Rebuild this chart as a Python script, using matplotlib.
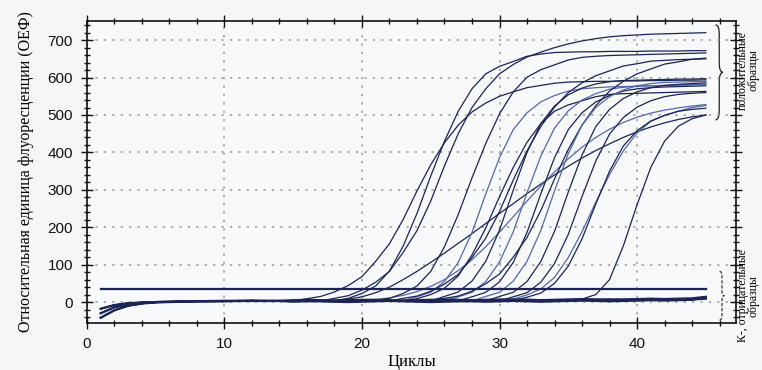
import matplotlib
matplotlib.use('Agg')
import matplotlib.pyplot as plt
from matplotlib.path import Path
from matplotlib.patches import PathPatch
from matplotlib.ticker import MultipleLocator

# циклы
early_cycles = list(range(1, 15))
late_cycles = list(range(15, 46))

# начало кривых, циклы 1-14
early_a = [-42, -22, -10, -4, -1, 0, 1, 2, 2, 3, 3, 3, 3, 3]
early_b = [-30, -14, -6, -2, 0, 1, 1, 2, 2, 2, 3, 3, 3, 3]
early_c = [-18, -8, -3, -1, 0, 1, 2, 2, 3, 3, 3, 4, 3, 3]

# положительные образцы, циклы 15-45
pos_a = [3, 9, 15, 27, 44, 68, 109, 156, 221, 297, 367, 426, 473, 508, 532, 550,
         562, 573, 579, 585, 588, 589, 590, 590, 591, 591, 592, 592, 593, 593, 594]
pos_b = [3, 3, 3, 3, 10, 23, 43, 83, 150, 237, 337, 430, 510, 570, 610, 630,
         643, 657, 663, 667, 668, 669, 669, 670, 670, 670, 671, 671, 671, 672, 672]
pos_c = [3, 3, 3, 10, 17, 32, 53, 82, 133, 191, 270, 364, 450, 520, 570, 610,
         635, 655, 668, 680, 690, 698, 704, 709, 712, 714, 716, 717, 718, 719, 720]
pos_d = [3, 3, 4, 5, 8, 14, 25, 40, 60, 82, 106, 131, 157, 183, 210, 237,
         263, 290, 315, 340, 363, 385, 405, 423, 440, 455, 468, 479, 488, 495, 500]
pos_e = [3, 3, 3, 3, 4, 5, 7, 11, 18, 28, 42, 60, 84, 113, 148, 187,
         228, 270, 310, 348, 383, 414, 440, 462, 480, 494, 505, 513, 519, 524, 528]
pos_f = [3, 2, 3, 4, 3, 3, 4, 10, 23, 43, 82, 148, 234, 332, 424, 503,
         562, 601, 621, 634, 647, 654, 657, 659, 660, 661, 662, 663, 664, 665, 666]
pos_g = [2, 3, 3, 2, 3, 4, 3, 3, 4, 14, 26, 55, 106, 186, 289, 386,
         461, 506, 535, 552, 564, 570, 573, 575, 576, 577, 578, 579, 580, 581, 582]
pos_h = [3, 4, 3, 3, 2, 3, 4, 4, 3, 9, 20, 37, 70, 126, 198, 282,
         360, 427, 477, 510, 527, 538, 549, 555, 557, 558, 559, 560, 561, 562, 563]
pos_i = [3, 3, 2, 3, 4, 4, 3, 2, 3, 4, 3, 15, 27, 56, 109, 192,
         299, 400, 477, 524, 554, 572, 583, 589, 592, 593, 594, 595, 596, 596, 597]
pos_j = [4, 3, 3, 4, 5, 4, 3, 3, 10, 16, 29, 48, 74, 119, 171, 242,
         326, 404, 469, 521, 560, 586, 605, 618, 631, 637, 644, 646, 648, 649, 650]
pos_k = [3, 2, 2, 3, 3, 4, 3, 3, 2, 3, 4, 3, 14, 26, 55, 107,
         188, 292, 390, 465, 511, 540, 557, 569, 574, 577, 578, 579, 580, 581, 582]
pos_l = [3, 3, 4, 3, 2, 3, 3, 4, 4, 3, 3, 2, 3, 14, 26, 54,
         106, 186, 289, 386, 461, 506, 535, 552, 564, 570, 573, 575, 576, 577, 578]
pos_m = [2, 3, 3, 3, 4, 4, 3, 3, 2, 3, 4, 10, 16, 29, 49, 75,
         120, 173, 244, 329, 408, 473, 525, 564, 590, 610, 623, 636, 642, 649, 652]
pos_n = [3, 4, 4, 3, 3, 2, 3, 3, 4, 3, 3, 2, 3, 3, 15, 26,
         56, 109, 191, 297, 397, 473, 520, 549, 567, 578, 584, 587, 588, 589, 590]
pos_o = [4, 3, 3, 2, 3, 3, 4, 4, 3, 3, 2, 3, 3, 4, 3, 15,
         26, 55, 108, 189, 294, 393, 469, 515, 544, 562, 573, 579, 582, 584, 586]
pos_p = [3, 3, 2, 3, 4, 3, 3, 3, 4, 3, 2, 3, 3, 4, 3, 3,
         14, 25, 53, 103, 181, 282, 377, 449, 493, 521, 538, 549, 555, 558, 560]
pos_q = [2, 3, 3, 4, 3, 3, 2, 3, 4, 4, 3, 3, 2, 3, 3, 4,
         8, 19, 35, 66, 119, 188, 267, 341, 404, 452, 483, 499, 510, 520, 525]
pos_r = [3, 3, 4, 3, 3, 2, 3, 3, 4, 3, 3, 2, 3, 4, 3, 3,
         4, 13, 24, 50, 96, 169, 262, 350, 417, 458, 484, 499, 510, 515, 518]
pos_s = [3, 4, 3, 3, 2, 3, 3, 4, 3, 3, 3, 2, 3, 4, 3, 3,
         3, 4, 3, 3, 3, 8, 20, 60, 150, 260, 360, 430, 470, 490, 500]

# отрицательные образцы, циклы 15-45
neg_a = [3, 4, 3, 2, 3, 4, 5, 4, 3, 3, 4, 5, 5, 4, 3, 4,
         5, 6, 5, 4, 4, 5, 6, 7, 6, 5, 6, 7, 8, 7, 9]
neg_b = [1, 2, 2, 1, 0, 1, 2, 3, 2, 1, 0, 1, 2, 2, 1, 2,
         3, 2, 1, 2, 3, 4, 3, 2, 3, 4, 5, 4, 5, 6, 12]
neg_c = [5, 6, 5, 4, 5, 6, 6, 5, 4, 5, 6, 7, 6, 5, 6, 7,
         7, 6, 5, 6, 7, 8, 7, 6, 7, 8, 9, 8, 9, 10, 14]

threshold = 35

positives = [pos_a, pos_b, pos_c, pos_d, pos_e, pos_f, pos_g, pos_h, pos_i, pos_j,
             pos_k, pos_l, pos_m, pos_n, pos_o, pos_p, pos_q, pos_r, pos_s]
negatives = [neg_a, neg_b, neg_c]
starts = [early_a, early_b, early_c]

dark = '#1b2452'
light = '#5468a6'
pos_colors = [dark, dark, dark, dark, light, dark, light, dark, dark, dark,
              light, dark, dark, light, dark, dark, light, dark, dark]

fig = plt.figure(figsize=(7.62, 3.70), dpi=100, facecolor='#f5f6f8')
ax = fig.add_axes([0.114, 0.127, 0.852, 0.816])
ax.set_facecolor('#f8f9fb')

ax.plot([1, 45], [threshold, threshold], color=dark, lw=1.6, zorder=3)

for i, ys in enumerate(positives):
    y = starts[i % 3] + ys
    ax.plot(early_cycles + late_cycles, y, color=pos_colors[i], lw=0.9, zorder=2)

for i, ys in enumerate(negatives):
    y = starts[(i + 1) % 3] + ys
    ax.plot(early_cycles + late_cycles, y, color=dark, lw=1.6, zorder=2)


def brace(x0, y_lo, y_hi, w, **kw):
    ym = (y_lo + y_hi) / 2
    d = 0.1 * (y_hi - y_lo)
    xm = x0 + w / 2
    verts = [(x0, y_hi), (xm, y_hi), (xm, y_hi - d), (xm, ym + d),
             (xm, ym), (x0 + w, ym), (xm, ym), (xm, ym - d),
             (xm, y_lo + d), (xm, y_lo), (x0, y_lo)]
    codes = [Path.MOVETO, Path.CURVE3, Path.CURVE3, Path.LINETO,
             Path.CURVE3, Path.CURVE3, Path.CURVE3, Path.CURVE3,
             Path.LINETO, Path.CURVE3, Path.CURVE3]
    ax.add_patch(PathPatch(Path(verts, codes), fill=False, clip_on=False, **kw))


brace(45.7, 487, 741, 0.55, color='#222', lw=0.9)
brace(46.0, -48, 82, 0.35, color='#222', lw=0.8, linestyle=(0, (3, 1.5)))

ax.set_xlim(0, 47.2)
ax.set_ylim(-56, 751)
ax.xaxis.set_major_locator(MultipleLocator(10))
ax.xaxis.set_minor_locator(MultipleLocator(2))
ax.yaxis.set_major_locator(MultipleLocator(100))
ax.yaxis.set_minor_locator(MultipleLocator(20))
ax.tick_params(which='both', direction='inout', top=True, right=True, width=1, colors='#111')
ax.tick_params(which='major', length=8, labelsize=11, pad=6)
ax.tick_params(which='minor', length=4)
for lab in ax.get_xticklabels() + ax.get_yticklabels():
    lab.set_family('Liberation Sans')
for s in ax.spines.values():
    s.set_linewidth(1.2)
    s.set_color('#111')

ax.grid(True, which='major', linestyle=(0, (1.5, 4)), color='#9a9a9a', lw=1.1)

ax.set_xlabel('Циклы', family='Liberation Serif', fontsize=12, labelpad=2)
ax.set_ylabel('Относительная единица флуоресценции (ОЕФ)', family='Liberation Serif',
              fontsize=11.5, labelpad=10)

fig.text(0.982, 0.81, 'положительные\nобразцы', rotation=90, ha='center', va='center',
         family='Liberation Serif', fontsize=8.5, linespacing=0.9)
fig.text(0.982, 0.20, 'К-, отрицательные\nобразцы', rotation=90, ha='center', va='center',
         family='Liberation Serif', fontsize=8.5, linespacing=0.9)

fig.savefig('out.png', dpi=100, facecolor=fig.get_facecolor())
